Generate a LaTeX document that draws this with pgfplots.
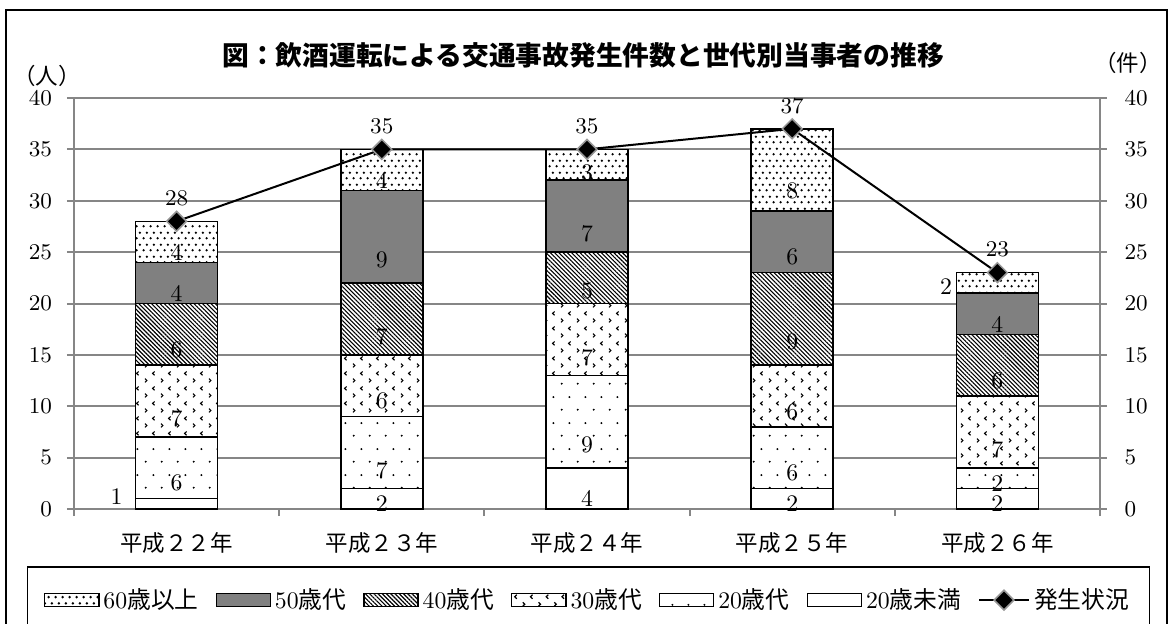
\documentclass[border=0pt]{standalone}
\usepackage{fontspec}
\usepackage{pgfplots}
\pgfplotsset{compat=1.18}
\usepackage{pgfplotstable}
\usetikzlibrary{patterns,patterns.meta}
\newfontfamily\jp{Noto Sans CJK JP}

\definecolor{gridgray}{RGB}{134,134,134}
\definecolor{barfill}{RGB}{128,128,128}
\definecolor{markgray}{RGB}{150,150,150}

% fill patterns for the age groups
\tikzdeclarepattern{
  name=densedots, type=uncolored,
  bounding box={(0pt,0pt) and (2.7pt,4.6pt)},
  tile size={(2.7pt,4.6pt)},
  code={\fill (0.675pt,1.15pt) circle (0.55pt); \fill (2.025pt,3.45pt) circle (0.55pt);}
}
\tikzdeclarepattern{
  name=sparsedots, type=uncolored,
  bounding box={(0pt,0pt) and (6.3pt,10.4pt)},
  tile size={(6.3pt,10.4pt)},
  code={\fill (1.5pt,2.6pt) circle (0.45pt); \fill (4.65pt,7.8pt) circle (0.45pt);}
}
\tikzdeclarepattern{
  name=chevrons, type=uncolored,
  bounding box={(0pt,0pt) and (6.3pt,6pt)},
  tile size={(6.3pt,6pt)},
  code={\draw[line width=0.45pt] (1.2pt,0.7pt) -- (2pt,1.5pt) -- (1.2pt,2.3pt);
        \draw[line width=0.45pt] (5.1pt,3.7pt) -- (4.3pt,4.5pt) -- (5.1pt,5.3pt);}
}

\tikzset{
  g60/.style={draw=black, line width=0.6pt, preaction={fill=white}, pattern=densedots},
  g50/.style={draw=black, line width=0.6pt, fill=barfill},
  g40/.style={draw=black, line width=0.6pt, preaction={fill=white}, pattern={Lines[angle=-45,distance=1.2pt,line width=0.45pt]}},
  g30/.style={draw=black, line width=0.6pt, preaction={fill=white}, pattern=chevrons},
  g20/.style={draw=black, line width=0.6pt, preaction={fill=white}, pattern=sparsedots},
  g19/.style={draw=black, line width=0.6pt, fill=white},
}

% the node shift of nodes near coords is applied at two levels, so each is given at half size
\pgfplotsset{
  barleg/.style={legend image code/.code={\draw[##1] (0pt,-2.6pt) rectangle (21.6pt,2.6pt);}},
  lineleg/.style={legend image code/.code={\draw[mark repeat=2, mark phase=2, ##1] plot coordinates {(0pt,0pt) (10pt,0pt) (20pt,0pt)};}},
  seglab/.style={nodes near coords, point meta=explicit symbolic,
    visualization depends on={\thisrow{#1}\as\rawy},
    every node near coord/.style={anchor=center, inner sep=0pt,
      font=\fontsize{9.5}{9.5}\selectfont, text=black,
      shift={(axis direction cs:0,-\rawy/4)}}},
}

% persons by age group per year, and number of accidents
\pgfplotstableread{
x  u20 a20 a30 a40 a50 a60 tot l20 l60
0  1   6   7   6   4   4   28  {}  4
1  2   7   6   7   9   4   35  2   4
2  4   9   7   5   7   3   35  4   3
3  2   6   6   9   6   8   37  2   8
4  2   2   7   6   4   2   23  2   {}
}\data

\begin{document}
\begin{tikzpicture}
\path[use as bounding box] (-29.6pt,-45.6pt) rectangle (438.8pt,203.6pt);
\draw[line width=0.9pt] (-27.2pt,-50pt) -- (-27.2pt,199.6pt) -- (437.2pt,199.6pt) -- (437.2pt,-50pt);

\begin{axis}[
  scale only axis, width=410.4pt, height=164.4pt,
  at={(0pt,0pt)}, anchor=south west,
  xmin=-0.5, xmax=4.5, ymin=0, ymax=40,
  ybar stacked, bar width=0.4,
  axis x line*=bottom, axis y line*=left,
  axis line style={draw=gridgray, line width=0.8pt, -},
  ytick={0,5,...,40}, ytick pos=left,
  xtick={-0.5,0.5,...,4.5}, xtick pos=bottom,
  x tick label as interval,
  xticklabels={平成２２年,平成２３年,平成２４年,平成２５年,平成２６年},
  tick align=outside, major tick length=2.8pt,
  tick style={draw=gridgray, line width=0.8pt},
  ymajorgrids, grid style={draw=gridgray, line width=0.8pt},
  yticklabel style={font=\fontsize{9}{9}\selectfont, xshift=-2.5pt},
  xticklabel style={font=\jp\fontsize{9}{9}\selectfont, yshift=-3pt},
]
\addplot[g19, seglab=u20] table[x=x, y=u20, meta=l20] {\data};
\addplot[g20, seglab=a20] table[x=x, y=a20, meta=a20] {\data};
\addplot[g30, seglab=a30] table[x=x, y=a30, meta=a30] {\data};
\addplot[g40, seglab=a40] table[x=x, y=a40, meta=a40] {\data};
\addplot[g50, seglab=a50] table[x=x, y=a50, meta=a50] {\data};
\addplot[g60, seglab=a60] table[x=x, y=a60, meta=l60] {\data};
\node[anchor=east, inner sep=0pt, font=\fontsize{9.5}{9.5}\selectfont] at (axis cs:-0.2,1.2) [xshift=-5pt] {1};
\node[anchor=east, inner sep=0pt, font=\fontsize{9.5}{9.5}\selectfont] at (axis cs:3.8,21.6) [xshift=-1.5pt] {2};
\end{axis}

\begin{axis}[
  scale only axis, width=410.4pt, height=164.4pt,
  at={(0pt,0pt)}, anchor=south west,
  xmin=-0.5, xmax=4.5, ymin=0, ymax=40,
  axis x line=none, axis y line*=right,
  axis line style={draw=gridgray, line width=0.8pt, -},
  ytick={0,5,...,40}, ytick pos=right, yticklabel pos=right,
  tick align=outside, major tick length=2.8pt,
  tick style={draw=gridgray, line width=0.8pt},
  yticklabel style={font=\fontsize{9}{9}\selectfont, xshift=3.5pt},
  legend columns=7,
  legend style={at={(axis description cs:0,0)}, anchor=north west,
    xshift=-18.8pt, yshift=-22.8pt,
    draw=black, line width=0.6pt,
    font=\fontsize{9.5}{9.5}\selectfont,
    inner xsep=6.5pt, inner ysep=7pt,
    nodes={inner sep=1.6pt},
    /tikz/every even column/.append style={column sep=5.2pt}},
  legend cell align=left,
]
\addlegendimage{barleg, g60}\addlegendentry{60{\jp 歳以上}}
\addlegendimage{barleg, g50}\addlegendentry{50{\jp 歳代}}
\addlegendimage{barleg, g40}\addlegendentry{40{\jp 歳代}}
\addlegendimage{barleg, g30}\addlegendentry{30{\jp 歳代}}
\addlegendimage{barleg, g20}\addlegendentry{20{\jp 歳代}}
\addlegendimage{barleg, g19}\addlegendentry{20{\jp 歳未満}}
\addplot[black, line width=0.8pt, lineleg,
  mark=square*, mark size=2.8pt,
  mark options={rotate=45, fill=black, draw=markgray, line width=0.6pt, solid},
  nodes near coords, point meta=explicit,
  every node near coord/.style={font=\fontsize{9.5}{9.5}\selectfont, anchor=south, inner sep=0pt, yshift=6pt, text=black},
] table[x=x, y=tot, meta=tot] {\data};
\addlegendentry{\jp 発生状況}
\end{axis}

\node[font=\jp\bfseries\fontsize{10.7}{10.7}\selectfont] at (203.6pt,181.6pt) {図：飲酒運転による交通事故発生件数と世代別当事者の推移};
\node[font=\jp\fontsize{9}{9}\selectfont, anchor=base, inner sep=0pt] at (-10.8pt,169.6pt) {（人）};
\node[font=\jp\fontsize{9}{9}\selectfont, anchor=base, inner sep=0pt] at (421.6pt,174.8pt) {（件）};
\end{tikzpicture}
\end{document}
